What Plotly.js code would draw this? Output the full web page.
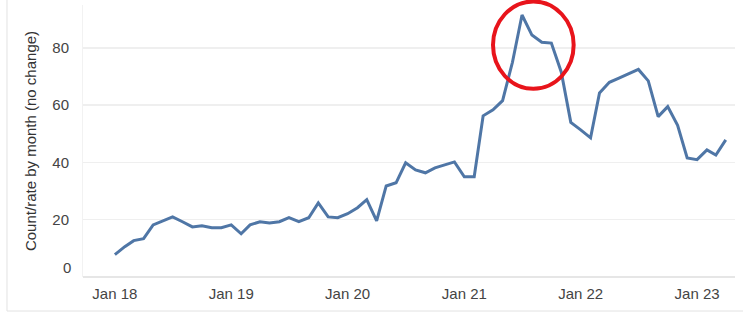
<!DOCTYPE html>
<html>
<head>
<meta charset="utf-8">
<script src="https://cdn.plot.ly/plotly-3.0.1.min.js"></script>
<style>html,body{margin:0;padding:0;background:#fff;}#chart{width:743px;height:314px;}</style>
</head>
<body>
<div id="chart"></div>
<script>
// Monthly dates Jan 2018 .. Apr 2023
const startYear = 2018;
const months = [];
for (let i = 0; i < 64; i++) {
  const y = startYear + Math.floor(i / 12);
  const m = (i % 12) + 1;
  months.push(y + '-' + String(m).padStart(2, '0') + '-01');
}
const values = [
  7.8, 10.6, 12.7, 13.4, 18.2, 19.6, 21.0, 19.3, 17.5, 17.9, 17.2, 17.2,
  18.2, 15.1, 18.2, 19.3, 18.9, 19.3, 20.7, 19.3, 20.7, 25.9, 21.0, 20.7,
  22.1, 24.2, 27.0, 19.6, 31.8, 32.9, 39.9, 37.4, 36.4, 38.1, 39.2, 40.2,
  35.0, 35.0, 56.3, 58.4, 61.6, 75.0, 91.5, 84.5, 82.0, 81.7, 71.6, 54.0,
  51.4, 48.6, 64.3, 68.0, 69.5, 71.0, 72.5, 68.5, 56.0, 59.5, 53.0, 41.6,
  41.0, 44.4, 42.6, 47.9
];
const yTicks = [0, 20, 40, 60, 80];
const yTickText = ['', '20', '40', '60', '80'];
const yTitle = 'Count/rate by month (no change)';

const trace = {
  x: months, y: values, type: 'scatter', mode: 'lines',
  line: {color: '#4f76a6', width: 3}, hoverinfo: 'skip'
};

const layout = {
  width: 743, height: 314,
  margin: {l: 83, r: 8, t: 5, b: 37},
  paper_bgcolor: '#ffffff', plot_bgcolor: '#ffffff',
  font: {family: 'Liberation Sans, Arial, sans-serif', size: 15, color: '#444'},
  showlegend: false,
  xaxis: {
    type: 'date',
    range: ['2017-09-23', '2023-04-30'],
    tick0: '2018-01-01', dtick: 'M12', tickformat: '%b %y',
    showgrid: false, zeroline: false, showline: false, ticks: '',
    ticklabelstandoff: 6,
    tickfont: {size: 15, color: '#444'}
  },
  yaxis: {
    range: [0, 95], tickvals: yTicks, ticktext: yTickText,
    showgrid: true, gridcolor: '#efefef', gridwidth: 1.5,
    zeroline: true, zerolinecolor: '#e6e6e6', zerolinewidth: 1.5,
    showline: true, linecolor: '#f2f2f2', linewidth: 1,
    ticks: '', ticklabelstandoff: 10,
    tickfont: {size: 15, color: '#444'},
    title: {text: yTitle, font: {size: 15, color: '#333'}, standoff: 12}
  },
  annotations: [
    {text: '0', xref: 'paper', yref: 'y', x: 0, y: 0, xanchor: 'right', yanchor: 'middle',
     xshift: -10, yshift: 10, showarrow: false, font: {size: 15, color: '#444'}}
  ],
  shapes: [
    {type: 'circle', xref: 'x', yref: 'paper',
     x0: '2021-04-01', x1: '2021-12-10', y0: 0.692, y1: 1.013,
     line: {color: '#e8141b', width: 4}},
    {type: 'line', xref: 'paper', yref: 'paper', x0: -0.1166, x1: -0.1166, y0: -0.125, y1: 1.02,
     line: {color: '#e2e2e2', width: 1}},
    {type: 'line', xref: 'paper', yref: 'paper', x0: -0.1166, x1: 1.02, y0: -0.125, y1: -0.125,
     line: {color: '#e2e2e2', width: 1}}
  ]
};

Plotly.newPlot('chart', [trace], layout, {displayModeBar: false, staticPlot: true});
</script>
</body>
</html>
